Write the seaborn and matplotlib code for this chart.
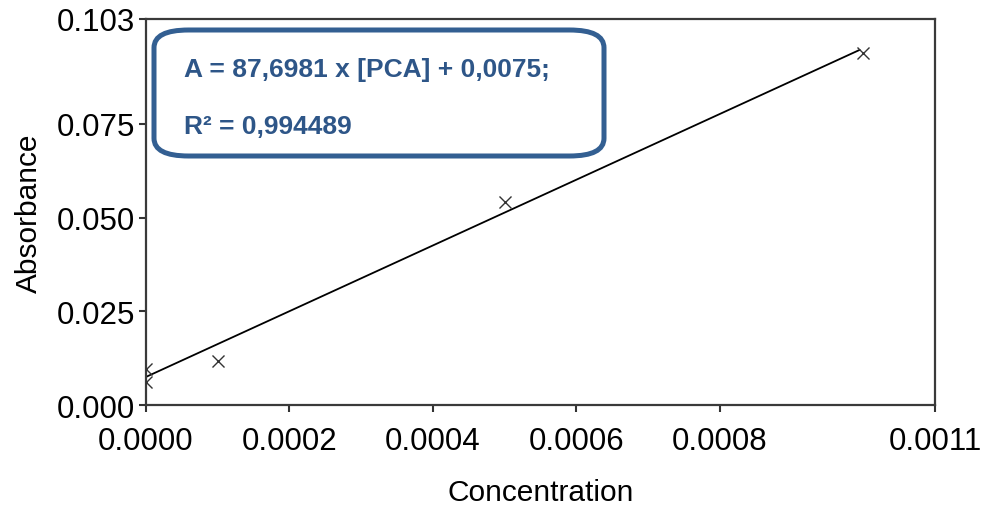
import matplotlib
matplotlib.use("Agg")
import matplotlib.pyplot as plt
from matplotlib import font_manager
from matplotlib.patches import FancyBboxPatch
import numpy as np
import pandas as pd
import seaborn as sns

# Calibration measurements
concentration = [0.0, 0.0, 0.0001, 0.0005, 0.001]
absorbance = [0.0096, 0.0061, 0.0118, 0.0541, 0.0939]

# Linear fit reported for the calibration
slope = 87.6981
intercept = 0.0075
r_squared = "0,994489"

x_ticks = [0.0, 0.0002, 0.0004, 0.0006, 0.0008, 0.0011]
x_tick_labels = ["0.0000", "0.0002", "0.0004", "0.0006", "0.0008", "0.0011"]
y_ticks = [0.0, 0.025, 0.050, 0.075, 0.103]
y_tick_labels = ["0.000", "0.025", "0.050", "0.075", "0.103"]

sns.set_style("white")
plt.rcParams["font.family"] = ["Liberation Sans", "DejaVu Sans"]
plt.rcParams["text.color"] = "black"
plt.rcParams["axes.labelcolor"] = "black"


def regular_width_font(bold):
    """Pick the normal-width Liberation Sans face (not the Narrow one)."""
    want = "LiberationSans-Bold.ttf" if bold else "LiberationSans-Regular.ttf"
    for f in font_manager.fontManager.ttflist:
        if f.fname.endswith(want):
            return font_manager.FontProperties(fname=f.fname)
    return font_manager.FontProperties(family="Liberation Sans",
                                       weight="bold" if bold else "normal")


fig = plt.figure(figsize=(9.86, 5.06), dpi=100)
ax = fig.add_axes([0.1481, 0.1976, 0.8002, 0.7629])

points = pd.DataFrame({"Concentration": concentration, "Absorbance": absorbance})
fit_x = np.array([min(concentration), 0.000995])
fit = pd.DataFrame({"Concentration": fit_x, "Absorbance": slope * fit_x + intercept})

sns.lineplot(data=fit, x="Concentration", y="Absorbance", ax=ax,
             color="black", linewidth=1.3, zorder=2)
sns.scatterplot(data=points, x="Concentration", y="Absorbance", ax=ax,
                marker="x", s=75, color="#333333", linewidth=1.0, zorder=3)

ax.set_xlim(0, 0.0011)
ax.set_ylim(0, 0.103)
ax.set_xticks(x_ticks)
ax.set_xticklabels(x_tick_labels)
ax.set_yticks(y_ticks)
ax.set_yticklabels(y_tick_labels)

regular = regular_width_font(False)
for lab in ax.get_xticklabels() + ax.get_yticklabels():
    lab.set_fontproperties(regular)
    lab.set_fontsize(22.5)
    lab.set_color("black")

ax.tick_params(axis="both", direction="out", length=5, width=1.5, color="#333333")
ax.tick_params(axis="x", pad=10)
ax.tick_params(axis="y", pad=3)
ax.xaxis.set_ticks_position("bottom")
ax.yaxis.set_ticks_position("left")

for side in ["left", "right", "top", "bottom"]:
    ax.spines[side].set_visible(True)
    ax.spines[side].set_color("#3a3a3a")
    ax.spines[side].set_linewidth(1.6)

label_font = regular.copy()
label_font.set_size(21.5)
ax.set_xlabel("Concentration", fontproperties=label_font, labelpad=16)
ax.set_ylabel("Absorbance", fontproperties=label_font, labelpad=10)

# Equation box
box_color = "#335f92"
box = FancyBboxPatch((154 / 986, 1 - 157 / 506), 450 / 986, 126 / 506,
                     boxstyle="round,pad=0,rounding_size=0.035",
                     transform=fig.transFigure, facecolor="white",
                     edgecolor=box_color, linewidth=3.6, zorder=5)
fig.patches.append(box)
bold = regular_width_font(True)
bold.set_size(19)
text_kw = dict(transform=fig.transFigure, fontproperties=bold,
               color="#2e5688", va="center", ha="left", zorder=6)
fig.text(184 / 986, 1 - 70 / 506,
         f"A = {str(slope).replace('.', ',')} x [PCA] + {str(intercept).replace('.', ',')};",
         **text_kw)
fig.text(184 / 986, 1 - 127 / 506, f"R² = {r_squared}", **text_kw)

fig.savefig("out.png", dpi=100, facecolor="white")
